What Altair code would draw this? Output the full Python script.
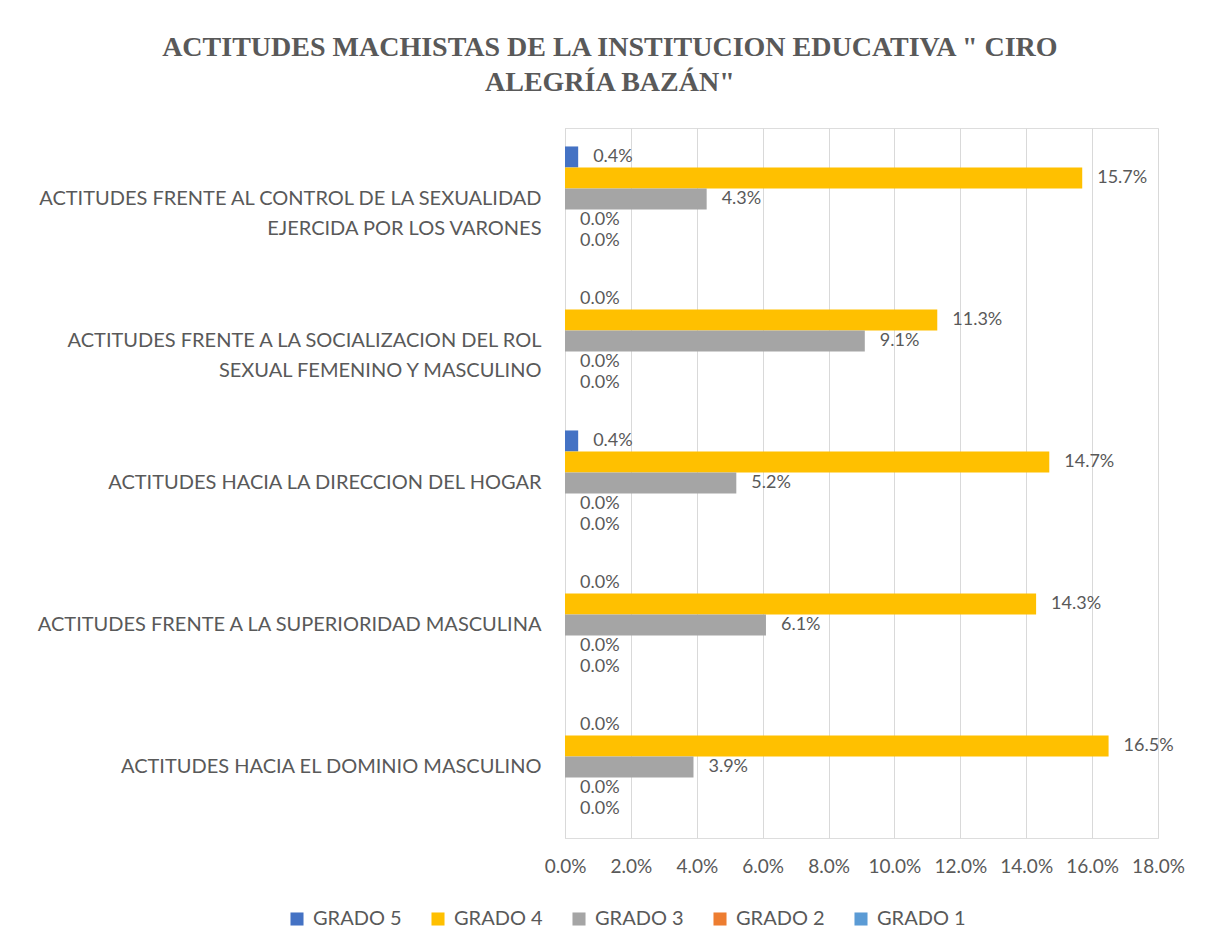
import altair as alt
import pandas as pd

categories = [
    "ACTITUDES FRENTE AL CONTROL DE LA SEXUALIDAD|EJERCIDA POR LOS VARONES",
    "ACTITUDES FRENTE A LA SOCIALIZACION DEL ROL|SEXUAL FEMENINO Y MASCULINO",
    "ACTITUDES HACIA LA DIRECCION DEL HOGAR",
    "ACTITUDES FRENTE A LA SUPERIORIDAD MASCULINA",
    "ACTITUDES HACIA EL DOMINIO MASCULINO",
]
series = ["GRADO 5", "GRADO 4", "GRADO 3", "GRADO 2", "GRADO 1"]
colors = ["#4472C4", "#FFC000", "#A5A5A5", "#ED7D31", "#5B9BD5"]

grado5 = [0.004, 0.000, 0.004, 0.000, 0.000]
grado4 = [0.157, 0.113, 0.147, 0.143, 0.165]
grado3 = [0.043, 0.091, 0.052, 0.061, 0.039]
grado2 = [0.000, 0.000, 0.000, 0.000, 0.000]
grado1 = [0.000, 0.000, 0.000, 0.000, 0.000]

x_ticks = [0, 0.02, 0.04, 0.06, 0.08, 0.10, 0.12, 0.14, 0.16, 0.18]

rows = []
for s, vals in zip(series, [grado5, grado4, grado3, grado2, grado1]):
    for c, v in zip(categories, vals):
        rows.append({"cat": c, "serie": s, "valor": v})
df = pd.DataFrame(rows)

FONT = "Lato"
GRAY = "#595959"

y_enc = alt.Y(
    "cat:N",
    sort=categories,
    title=None,
    scale=alt.Scale(paddingInner=0.26, paddingOuter=0.13),
    axis=alt.Axis(
        labelExpr="split(datum.label, '|')",
        labelFont=FONT, labelFontSize=20, labelColor=GRAY,
        labelPadding=24, ticks=False, domainColor="#D9D9D9",
        labelLimit=700, labelLineHeight=30,
    ),
)
yoff = alt.YOffset("serie:N", sort=series, scale=alt.Scale(paddingInner=0, paddingOuter=0))
x_enc = alt.X(
    "valor:Q",
    title=None,
    scale=alt.Scale(domain=[0, 0.18], nice=False),
    axis=alt.Axis(
        values=x_ticks, format=".1%", labelFont=FONT, labelFontSize=19,
        labelColor=GRAY, domain=False, ticks=False, gridColor="#D9D9D9",
        labelPadding=19, labelOverlap=False, labelFlush=False,
    ),
)

base = alt.Chart(df).encode(y=y_enc, yOffset=yoff)

bars = base.mark_bar().encode(
    x=x_enc,
    color=alt.Color(
        "serie:N",
        sort=series,
        scale=alt.Scale(domain=series, range=colors),
        legend=alt.Legend(
            title=None, orient="none", direction="horizontal",
            legendX=-278, legendY=781,
            labelFont=FONT, labelFontSize=20, labelColor=GRAY,
            symbolType="square", symbolSize=170, symbolStrokeWidth=0,
            columnPadding=26, labelOffset=6,
        ),
    ),
)

labels = base.mark_text(
    align="left", baseline="middle", dx=15, font=FONT, fontSize=18, color=GRAY
).encode(x="valor:Q", text=alt.Text("valor:Q", format=".1%"))

chart = (
    alt.layer(bars, labels)
    .properties(
        width=593,
        height=710,
        padding={"left": 27, "top": 26, "right": 10, "bottom": 5},
        title=alt.TitleParams(
            text=["ACTITUDES MACHISTAS DE LA INSTITUCION EDUCATIVA \" CIRO", "ALEGRÍA BAZÁN\""],
            font="Liberation Serif", fontSize=28, fontWeight="bold", color=GRAY,
            anchor="middle", frame="bounds", lineHeight=35, offset=31,
        ),
    )
    .configure_view(stroke=None)
    .configure(background="white")
)

chart.save("out.html", embed_options={"renderer": "svg", "actions": False})
